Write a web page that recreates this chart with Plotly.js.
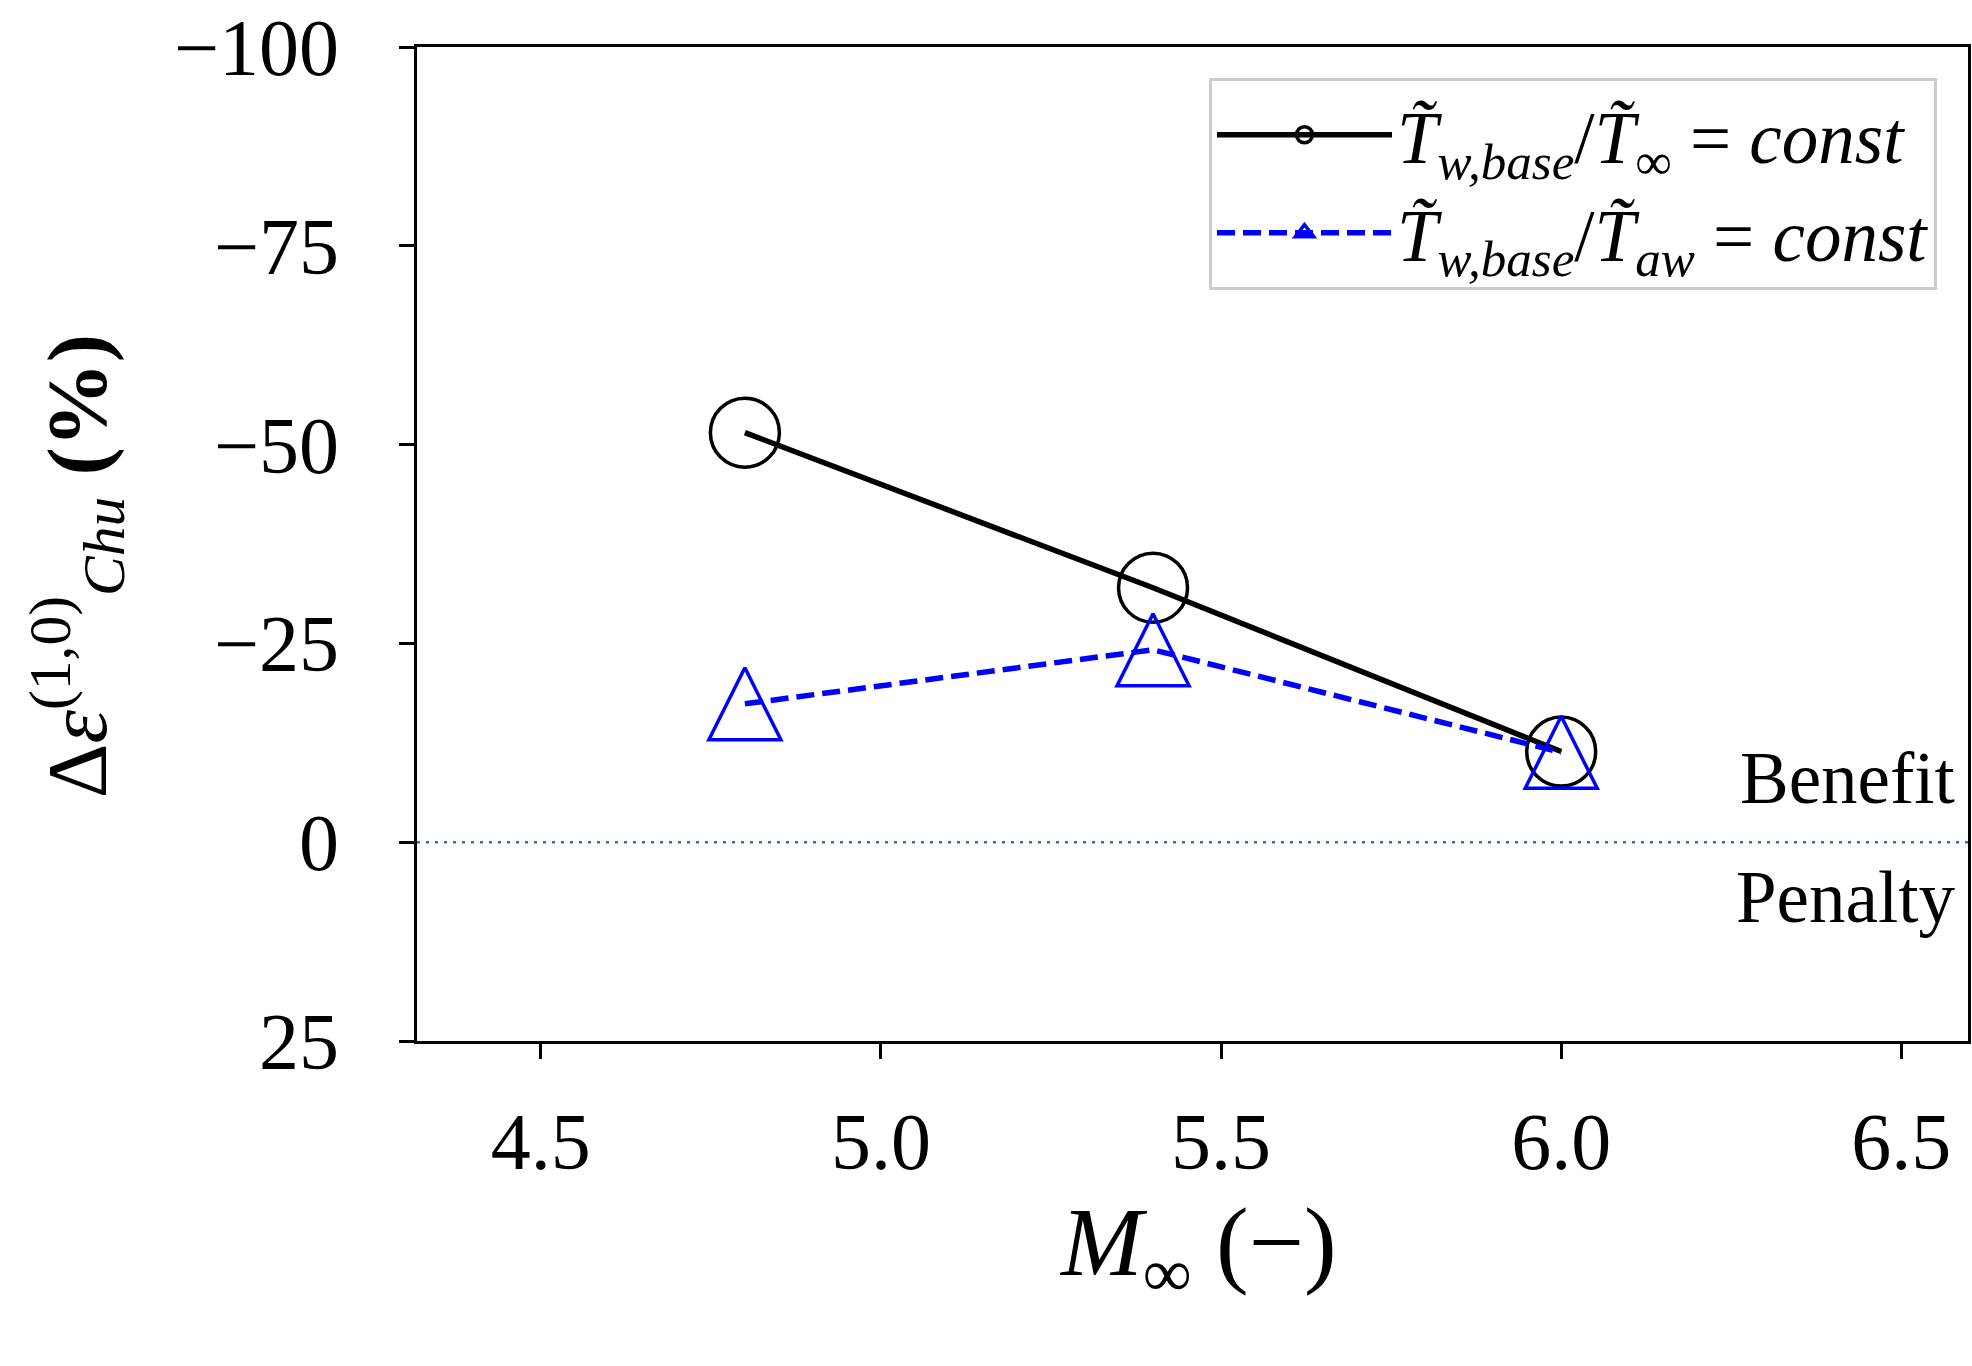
<!DOCTYPE html>
<html>
<head>
<meta charset="utf-8">
<script src="https://cdn.plot.ly/plotly-3.0.1.min.js"></script>
<style>
  html, body { margin: 0; padding: 0; background: #fff; }
  #chart { width: 1972px; height: 1366px; }
</style>
</head>
<body>
<div id="chart"></div>
<script>
// Mach numbers and relative change of Chu energy (%)
var machNumbers = [4.8, 5.4, 6.0];
var constTinf = [-51.5, -32.0, -11.4];
var constTaw = [-17.4, -24.2, -11.3];

var xTicks = [4.5, 5.0, 5.5, 6.0, 6.5];
var yTicks = [-100, -75, -50, -25, 0, 25];

var serif = 'Liberation Serif, Times New Roman, serif';
var nameTinf = '<i>T\u0303</i><sub><i>w,base</i></sub>/<i>T\u0303</i><sub>\u221e</sub> = <i>const</i>';
var nameTaw = '<i>T\u0303</i><sub><i>w,base</i></sub>/<i>T\u0303</i><sub><i>aw</i></sub> = <i>const</i>';

var tinf_plot = {
    x: machNumbers,
    y: constTinf,
    type: 'scatter',
    mode: 'lines+markers',
    name: nameTinf,
    line: {color: 'black', width: 5.5},
    marker: {
        symbol: 'circle-open',
        size: 69,
        color: 'black',
        line: {color: 'black', width: 3.5}
    }
};

// arrow-down turned 180deg and pushed up by half its height -> centred triangle
var taw_plot = {
    x: machNumbers,
    y: constTaw,
    type: 'scatter',
    mode: 'lines+markers',
    name: nameTaw,
    showlegend: false,
    line: {color: 'blue', width: 5.5, dash: '18px,8px'},
    marker: {
        symbol: 'arrow-down-open',
        size: 72,
        angle: 180,
        standoff: 36,
        color: 'blue',
        line: {color: 'blue', width: 3.5}
    }
};

// legend entry only (the standoff would push the legend symbol off the line)
var taw_legend = {
    x: [null],
    y: [null],
    type: 'scatter',
    mode: 'lines+markers',
    name: nameTaw,
    line: {color: 'blue', width: 5.5, dash: '18px,8px'},
    marker: {
        symbol: 'triangle-up-open',
        size: 72,
        color: 'blue',
        line: {color: 'blue', width: 3.5}
    }
};

var layout = {
    width: 1972,
    height: 1366,
    margin: {l: 417, r: 4, t: 47, b: 325},
    paper_bgcolor: 'white',
    plot_bgcolor: 'white',
    font: {family: serif, color: 'black', size: 80},
    showlegend: true,
    legend: {
        x: 0.98,
        y: 0.969,
        xanchor: 'right',
        yanchor: 'top',
        bgcolor: 'white',
        bordercolor: '#cccccc',
        borderwidth: 3,
        itemwidth: 175,
        font: {family: serif, size: 73, color: 'black'}
    },
    xaxis: {
        range: [4.318, 6.598],
        tickvals: xTicks,
        ticktext: xTicks.map(function (v) { return v.toFixed(1) }),
        ticks: 'outside',
        ticklen: 15,
        tickwidth: 3,
        tickcolor: 'black',
        ticklabelstandoff: 14,
        showline: true,
        linecolor: 'black',
        linewidth: 3,
        mirror: true,
        showgrid: false,
        zeroline: false,
        tickfont: {family: serif, size: 80}
    },
    yaxis: {
        range: [25, -100],
        tickvals: yTicks,
        ticks: 'outside',
        ticklen: 15,
        tickwidth: 3,
        tickcolor: 'black',
        ticklabelstandoff: 44,
        showline: true,
        linecolor: 'black',
        linewidth: 3,
        mirror: true,
        showgrid: false,
        zeroline: false,
        tickfont: {family: serif, size: 80}
    },
    shapes: [{
        type: 'line',
        xref: 'paper',
        x0: 0,
        x1: 1,
        yref: 'y',
        y0: 0,
        y1: 0,
        line: {color: '#1f77b4', width: 2.5, dash: '3px,6px'},
        layer: 'below'
    }],
    annotations: [{
        text: '<i>M</i><sub>\u221e</sub> (\u2212)',
        xref: 'paper',
        yref: 'paper',
        x: 0.5035,
        y: -0.21,
        xanchor: 'center',
        yanchor: 'middle',
        showarrow: false,
        font: {family: serif, size: 98}
    }, {
        text: '\u0394<i>\u03b5</i><sup>(1,0)</sup><sub><i>Chu</i></sub> <b>(%)</b>',
        xref: 'paper',
        yref: 'paper',
        x: -0.219,
        y: 0.478,
        xanchor: 'center',
        yanchor: 'middle',
        textangle: -90,
        showarrow: false,
        font: {family: serif, size: 85}
    }, {
        text: 'Benefit',
        xref: 'paper',
        yref: 'y',
        x: 0.993,
        y: -8.0,
        xanchor: 'right',
        yanchor: 'middle',
        showarrow: false,
        font: {family: serif, size: 73}
    }, {
        text: 'Penalty',
        xref: 'paper',
        yref: 'y',
        x: 0.993,
        y: 7.0,
        xanchor: 'right',
        yanchor: 'middle',
        showarrow: false,
        font: {family: serif, size: 73}
    }]
};

Plotly.newPlot('chart', [tinf_plot, taw_plot, taw_legend], layout, {displayModeBar: false, staticPlot: true});
</script>
</body>
</html>
